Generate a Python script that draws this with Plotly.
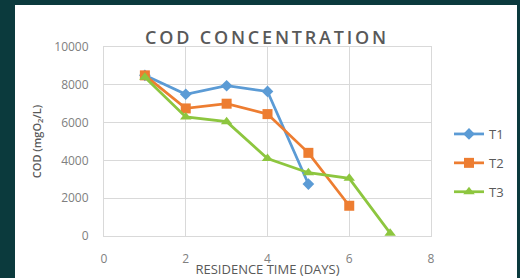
import plotly.graph_objects as go

days_t1 = [1, 2, 3, 4, 5]
cod_t1 = [8500, 7500, 7950, 7650, 2750]
days_t2 = [1, 2, 3, 4, 5, 6]
cod_t2 = [8500, 6750, 7000, 6450, 4400, 1600]
days_t3 = [1, 2, 3, 4, 5, 6, 7]
cod_t3 = [8400, 6300, 6050, 4100, 3350, 3050, 150]
x_ticks = [0, 2, 4, 6, 8]
y_ticks = [0, 2000, 4000, 6000, 8000, 10000]
y_tick_labels = ["0", "2000", "4000", "6000", "8000", "10000"]

fig = go.Figure()
series = [
    ("T1", days_t1, cod_t1, "#5b9bd5", "diamond", 9),
    ("T2", days_t2, cod_t2, "#ed7d31", "square", 10),
    ("T3", days_t3, cod_t3, "#8dc63f", "triangle-up", 10),
]
for name, x, y, c, sym, sz in series:
    fig.add_trace(go.Scatter(
        x=x, y=y, name=name, mode="lines+markers", legendgroup=name,
        line=dict(color=c, width=2.75),
        marker=dict(symbol=sym, size=sz, color=c, line=dict(width=0)),
    ))

W, H = 520, 278
L, R, T, B = 104, 89, 47, 42
pw, ph = W - L - R, H - T - B

fig.update_layout(
    width=W, height=H,
    margin=dict(l=L, r=R, t=T, b=B, autoexpand=False),
    paper_bgcolor="#0b3a3d",
    plot_bgcolor="white",
    font=dict(family="Open Sans", color="#595959", size=11),
    title=dict(text="COD CONCENTRATION", xref="container", x=267 / W, xanchor="center",
               y=1 - 38 / H, yanchor="middle",
               font=dict(family="Open Sans", size=18, color="#595959", weight=600)),
    showlegend=True,
    legend=dict(x=1 + 18 / pw, y=1 - (163 - T) / ph, xanchor="left", yanchor="middle",
                bgcolor="rgba(0,0,0,0)", tracegroupgap=9,
                font=dict(family="Liberation Sans Narrow, Open Sans", size=13, color="#595959"),
                itemwidth=30),
    shapes=[dict(type="rect", xref="paper", yref="paper", layer="below",
                 x0=(15 - L) / pw, x1=(517 - L) / pw, y0=-(B + 5) / ph, y1=1 + (T - 5) / ph,
                 line=dict(width=0), fillcolor="white")],
)
fig.update_xaxes(range=[0, 8], tickvals=x_ticks, showgrid=True, gridcolor="#d9d9d9", gridwidth=1,
                 zeroline=False, showline=True, linecolor="#d9d9d9", mirror=True, automargin=False,
                 ticks="outside", ticklen=12, tickcolor="rgba(0,0,0,0)",
                 tickfont=dict(size=12, color="#808080"),
                 title=dict(text="RESIDENCE TIME (DAYS)", standoff=0,
                            font=dict(family="Liberation Sans Narrow, Open Sans", size=13, color="#595959")))
fig.update_yaxes(range=[0, 10000], tickvals=y_ticks, ticktext=y_tick_labels, showgrid=True,
                 gridcolor="#d9d9d9", gridwidth=1, automargin=False,
                 zeroline=False, showline=True, linecolor="#d9d9d9", mirror=True,
                 ticks="outside", ticklen=12, tickcolor="rgba(0,0,0,0)",
                 tickfont=dict(size=12, color="#808080"),
                 title=dict(text="COD (mgO<sub>2</sub>/L)", standoff=10,
                            font=dict(family="Open Sans", size=11, color="#595959", weight=600)))

post = (
    "document.body.style.margin='0';document.body.style.overflow='hidden';"
    "document.querySelectorAll('.gtitle').forEach(function(t){t.style.letterSpacing='2.8px';});"
)
fig.write_html("out.html", config={"displayModeBar": False}, post_script=post)
